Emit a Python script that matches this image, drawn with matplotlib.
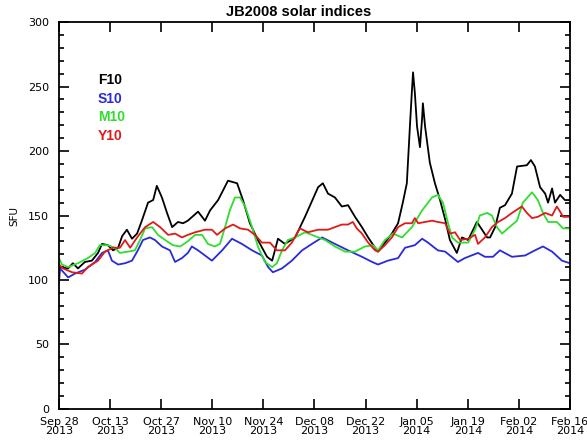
import numpy as np
import matplotlib.pyplot as plt
from matplotlib.ticker import MultipleLocator

# 数据：日序号（从 2013-09-28 起）与各指数值(SFU)
f10_day = [0, 2.5, 3.8, 5.2, 7.1, 9.0, 10.7, 11.8, 13.4, 14.8, 16.2, 17.3, 18.6, 20.0,
           21.4, 22.7, 24.4, 25.8, 26.8, 28.2, 29.6, 31.0, 32.6, 34.0, 35.3, 38.1, 40.0,
           41.4, 43.6, 46.3, 48.8, 50.4, 52.3, 54.5, 57.0, 58.4, 60.0, 61.9, 64.7, 67.4,
           71.0, 72.3, 73.7, 75.6, 77.5, 79.2, 81.1, 83.0, 84.7, 86.6, 87.4, 89.3, 91.2,
           92.9, 94.2, 95.3, 96.2, 96.7, 97.0, 97.5, 98.1, 98.9, 99.5, 99.7, 100.3, 101.6,
           103.0, 104.4, 105.8, 107.1, 109.0, 110.4, 112.1, 114.5, 115.9, 117.3, 118.1,
           119.5, 120.8, 122.2, 124.1, 125.5, 128.2, 129.3, 130.4, 131.8, 133.2, 134.0,
           135.1, 135.9, 137.3, 138.6, 140]
f10_val = [110, 109, 113, 109, 114, 115, 121, 128, 127, 123, 125, 134, 139, 132,
           136, 146, 160, 162, 173, 164, 152, 141, 145, 144, 146, 153, 146,
           154, 162, 177, 175, 162, 144, 131, 118, 115, 132, 128, 133, 149,
           172, 175, 167, 164, 157, 158, 149, 141, 133, 125, 122, 129, 136,
           144, 160, 175, 222, 247, 261, 245, 219, 203, 226, 237, 219, 191,
           175, 162, 147, 131, 121, 133, 131, 145, 139, 133, 133,
           141, 156, 158, 167, 188, 189, 193, 188, 172, 167, 160,
           171, 160, 166, 162, 162]

s10_day = [0, 0.3, 2.5, 4.4, 7.1, 9.9, 11.8, 13.4, 14.5, 16.2, 18.1, 20.0, 21.6, 23.0,
           24.9, 26.3, 28.2, 30.4, 31.8, 33.7, 35.3, 36.4, 38.1, 41.9, 44.7, 47.4, 50.1,
           52.9, 55.6, 57.3, 58.6, 61.1, 63.8, 66.6, 69.3, 71.0, 72.1, 75.6, 79.2, 83.0,
           85.8, 87.4, 90.1, 92.9, 94.8, 97.5, 99.5, 101.1, 103.8, 105.8, 109.3, 111.2,
           114.8, 116.7, 118.9, 120.8, 124.1, 127.7, 130.4, 132.6, 135.1, 137.8, 140]
s10_val = [98, 109, 102, 105, 108, 114, 121, 123, 115, 112, 113, 115, 123, 131,
           133, 131, 126, 123, 114, 117, 121, 126, 123, 115, 123, 132, 128,
           123, 119, 110, 106, 109, 115, 123, 128, 131, 133, 128, 123, 118,
           114, 112, 115, 117, 125, 127, 132, 129, 123, 122, 114, 117,
           121, 118, 118, 123, 118, 119, 123, 126, 122, 115, 113]

m10_day = [0, 0.8, 2.5, 5.2, 7.9, 9.9, 11.2, 13.4, 15.3, 16.7, 18.9, 20.8, 22.2, 23.6,
           25.5, 27.1, 29.6, 31.2, 33.2, 35.3, 37.3, 39.2, 40.8, 42.7, 44.1, 45.5, 46.8,
           48.2, 49.6, 51.0, 52.9, 54.5, 56.4, 58.4, 59.7, 61.1, 62.7, 64.7, 67.4, 69.3,
           71.0, 72.9, 75.6, 78.4, 81.1, 83.8, 86.0, 87.4, 89.3, 91.5, 94.0, 96.7, 99.5,
           102.2, 103.8, 105.2, 106.6, 107.7, 109.3, 112.1, 114.0, 115.3, 117.3, 118.6,
           120.0, 121.4, 123.0, 125.5, 127.1, 129.6, 131.2, 132.6, 134.0, 136.4, 138.1, 140]
m10_val = [117, 112, 110, 113, 117, 121, 127, 127, 125, 121, 122, 123, 131, 140,
           141, 135, 130, 127, 126, 130, 135, 135, 128, 126, 128, 141, 154,
           164, 164, 157, 141, 126, 114, 110, 113, 123, 131, 133, 137, 135,
           133, 131, 126, 122, 122, 126, 127, 123, 131, 136, 133, 141, 154,
           164, 166, 160, 144, 133, 129, 129, 139, 150, 152, 150,
           141, 136, 140, 146, 160, 168, 162, 152, 145, 145, 140, 140]

y10_day = [0, 1.1, 3.6, 6.3, 7.9, 10.7, 12.6, 14.8, 16.7, 18.1, 19.5, 21.4, 23.6, 25.8,
           27.7, 29.9, 31.8, 33.7, 35.3, 37.3, 40.0, 41.9, 43.3, 45.5, 47.7, 49.6, 51.8,
           53.7, 55.6, 57.8, 59.7, 61.9, 63.8, 66.0, 68.2, 71.0, 73.7, 75.6, 77.5, 79.2,
           80.5, 81.6, 83.0, 84.7, 86.6, 87.4, 89.3, 91.2, 92.9, 94.8, 96.7, 97.5, 98.4,
           100.3, 102.2, 103.8, 105.8, 107.1, 108.5, 109.9, 112.1, 114.0, 114.8, 116.7,
           118.6, 120.3, 122.2, 124.1, 126.8, 128.2, 129.6, 131.2, 133.2, 135.1, 136.4,
           137.3, 138.1, 140]
y10_val = [112, 109, 106, 105, 110, 115, 122, 125, 125, 131, 125, 133, 141, 145,
           141, 135, 136, 133, 135, 137, 139, 139, 135, 140, 143, 140, 139,
           135, 129, 129, 123, 123, 129, 140, 137, 139, 139, 141, 143, 143,
           145, 140, 136, 129, 123, 122, 127, 133, 141, 144, 144, 148, 144,
           145, 146, 145, 144, 136, 137, 131, 132, 135, 128, 133,
           141, 145, 148, 152, 157, 152, 148, 149, 152, 150, 157,
           153, 149, 149]

tick_days = np.arange(0, 141, 14)
tick_labels = ['Sep 28\n2013', 'Oct 13\n2013', 'Oct 27\n2013', 'Nov 10\n2013',
               'Nov 24\n2013', 'Dec 08\n2013', 'Dec 22\n2013', 'Jan 05\n2014',
               'Jan 19\n2014', 'Feb 02\n2014', 'Feb 16\n2014']

series = [('F10', f10_day, f10_val, 'black'),
          ('S10', s10_day, s10_val, '#2a2ad8'),
          ('M10', m10_day, m10_val, '#30dd30'),
          ('Y10', y10_day, y10_val, '#e01a1a')]

fig = plt.figure(figsize=(5.87, 4.41), dpi=100)
ax = fig.add_axes([0.1005, 0.0726, 0.8705, 0.8774])

for name, d, v, c in series:
    ax.plot(d, v, color=c, lw=1.3)

ax.set_xlim(0, 140)
ax.set_ylim(0, 300)
ax.set_xticks(tick_days)
ax.set_xticklabels(tick_labels, fontsize=8, linespacing=0.8)
ax.yaxis.set_major_locator(MultipleLocator(50))
ax.yaxis.set_minor_locator(MultipleLocator(10))
ax.tick_params(axis='both', which='major', direction='in', length=7, width=1.2,
               top=True, right=True, labelsize=8)
ax.tick_params(axis='x', which='major', pad=6)
ax.tick_params(axis='y', which='major', pad=7)
ax.tick_params(axis='y', which='minor', direction='in', length=3.5, width=1.2,
               left=True, right=True)
for s in ax.spines.values():
    s.set_linewidth(1.3)

ax.set_ylabel('SFU', fontsize=7.5, labelpad=6)
fig.text(0.508, 0.972, 'JB2008 solar indices', fontsize=10.5, fontweight='bold',
         family='Liberation Sans', ha='center', va='center')

# 图例文字
leg_y = [0.85, 0.80, 0.755, 0.705]
for (name, d, v, c), yy in zip(series, leg_y):
    ax.text(0.076, yy, name, color=c, transform=ax.transAxes, fontsize=10,
            fontweight='bold', family='Liberation Sans', va='center')

fig.savefig('out.png', dpi=100)
